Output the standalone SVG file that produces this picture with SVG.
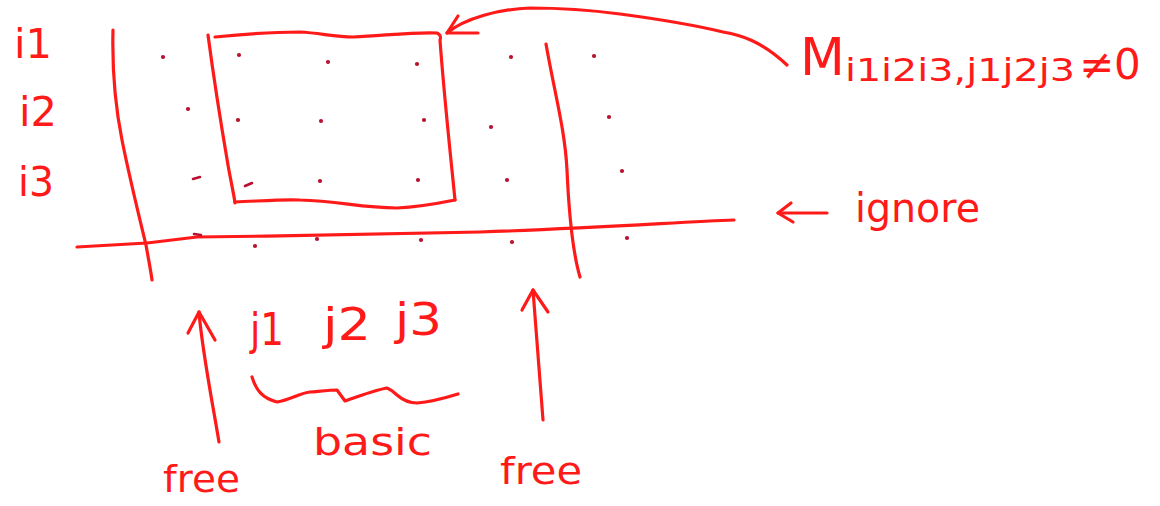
<svg xmlns="http://www.w3.org/2000/svg" width="1160" height="506" viewBox="0 0 1160 506">
<style>
.ink{fill:none;stroke:#ff1a1a;stroke-width:3.2;stroke-linecap:round;stroke-linejoin:round}
.t{fill:#ff1a1a;font-family:"DejaVu Sans","Liberation Sans",sans-serif}
.dot{fill:#b8102e}
.dash{stroke:#b8102e;stroke-width:2.6;stroke-linecap:round}
</style>
<rect width="1160" height="506" fill="#ffffff"/>
<g id="row-labels">
<text class="t" x="14" y="58" font-size="40" textLength="38" lengthAdjust="spacingAndGlyphs">i1</text>
<text class="t" x="19" y="126" font-size="40" textLength="38" lengthAdjust="spacingAndGlyphs">i2</text>
<text class="t" x="18" y="196" font-size="40" textLength="36" lengthAdjust="spacingAndGlyphs">i3</text>
</g>
<g id="grid-lines">
<path class="ink" d="M113,30 C112,70 116,110 122,140 C130,180 140,220 146,245 C149,262 151,272 152,280"/>
<path class="ink" d="M77,247 L147,243 L197,237 C300,236 420,233 480,232 C600,228 680,222 734,220"/>
<path class="ink" d="M546,44 C555,95 565,130 567,170 C569,215 572,250 580,277"/>
</g>
<g id="box">
<path class="ink" d="M208,35 C214,80 222,130 228,165 C231,182 234,195 235,203"/>
<path class="ink" d="M215,37 C245,34 275,32 300,32 C320,33 335,37 353,37 C390,35 415,32 437,33 C441,35 441,37 440,40 C444,95 450,150 455,200"/>
<path class="ink" d="M235,202 C260,201 285,199 300,200 C340,201 360,208 397,208 C420,207 440,203 455,200"/>
</g>
<g id="dots">
<circle class="dot" cx="163" cy="57" r="2.1"/>
<circle class="dot" cx="239" cy="55" r="2.1"/>
<circle class="dot" cx="328" cy="62" r="2.1"/>
<circle class="dot" cx="417" cy="64" r="2.1"/>
<circle class="dot" cx="511" cy="57" r="2.1"/>
<circle class="dot" cx="594" cy="56" r="2.1"/>
<circle class="dot" cx="188" cy="109" r="2.1"/>
<circle class="dot" cx="238" cy="120" r="2.1"/>
<circle class="dot" cx="321" cy="121" r="2.1"/>
<circle class="dot" cx="424" cy="120" r="2.1"/>
<circle class="dot" cx="491" cy="127" r="2.1"/>
<circle class="dot" cx="609" cy="117" r="2.1"/>
<path class="dash" d="M193,179 L200,177"/>
<path class="dash" d="M245,186 L252,183"/>
<circle class="dot" cx="320" cy="181" r="2.1"/>
<circle class="dot" cx="418" cy="180" r="2.1"/>
<circle class="dot" cx="507" cy="180" r="2.1"/>
<circle class="dot" cx="622" cy="171" r="2.1"/>
<path class="dash" d="M194,234 L201,235"/>
<circle class="dot" cx="255" cy="246" r="2.1"/>
<circle class="dot" cx="317" cy="239" r="2.1"/>
<circle class="dot" cx="421" cy="240" r="2.1"/>
<circle class="dot" cx="512" cy="242" r="2.1"/>
<circle class="dot" cx="627" cy="238" r="2.1"/>
</g>
<g id="label-M">
<text class="t" x="800" y="75" font-size="52">M<tspan font-size="32" dy="6" textLength="230" lengthAdjust="spacingAndGlyphs">i1i2i3,j1j2j3</tspan><tspan font-size="42" dy="-2" dx="4">≠0</tspan></text>
</g>
<g id="label-ignore">
<text class="t" x="855" y="222" font-size="40" textLength="125" lengthAdjust="spacingAndGlyphs">ignore</text>
</g>
<g id="label-j">
<text class="t" x="250" y="345" font-size="44" textLength="34" lengthAdjust="spacingAndGlyphs">j1</text>
<text class="t" x="323" y="340" font-size="44" textLength="48" lengthAdjust="spacingAndGlyphs">j2</text>
<text class="t" x="395" y="335" font-size="44" textLength="47" lengthAdjust="spacingAndGlyphs">j3</text>
</g>
<g id="label-basic">
<text class="t" x="313" y="455" font-size="38" textLength="119" lengthAdjust="spacingAndGlyphs">basic</text>
</g>
<g id="label-free-left">
<text class="t" x="163" y="492" font-size="38" textLength="77" lengthAdjust="spacingAndGlyphs">free</text>
</g>
<g id="label-free-right">
<text class="t" x="500" y="484" font-size="38" textLength="82" lengthAdjust="spacingAndGlyphs">free</text>
</g>
<g id="connectors">
<path class="ink" d="M787,65 C760,40 740,35 723,32 C690,24 650,18 620,14 C590,10 560,8 530,8 C500,9 465,18 447,33"/>
<path class="ink" d="M458,16 L447,33 L478,33"/>
<path class="ink" d="M827,213 L778,213"/>
<path class="ink" d="M791,203 L778,213 L793,222"/>
<path class="ink" d="M219,442 C212,400 202,350 199,312"/>
<path class="ink" d="M188,333 L199,312 L215,340"/>
<path class="ink" d="M543,420 C540,380 536,330 533,290"/>
<path class="ink" d="M522,310 L533,290 L548,312"/>
<path class="ink" d="M252,377 C256,390 262,398 277,402 C290,400 300,393 310,392 C322,391 332,390 337,390 L345,401 C360,396 375,390 387,388 C392,390 395,393 397,395 C405,402 412,403 417,403 C430,402 445,398 458,394"/>
</g>
</svg>
